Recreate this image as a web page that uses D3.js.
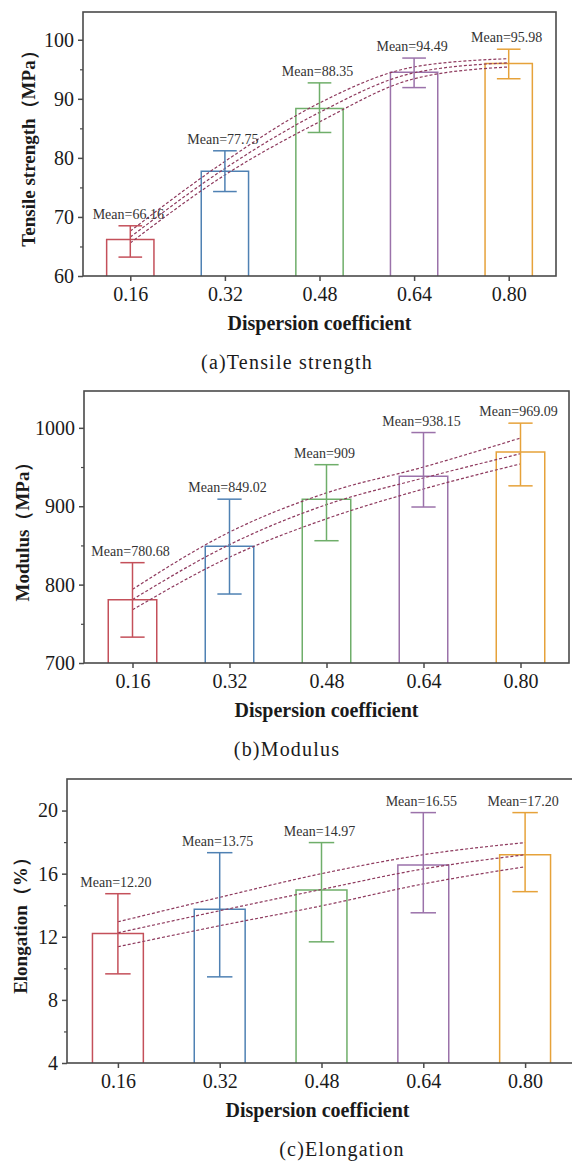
<!DOCTYPE html>
<html>
<head>
<meta charset="utf-8">
<script src="https://cdn.jsdelivr.net/npm/d3@7"></script>
<style>
  html, body { margin: 0; padding: 0; background: #fff; }
  svg { display: block; }
</style>
</head>
<body>
<div id="chart"></div>
<script>
// x categories (dispersion coefficient)
const categories = [0.16, 0.32, 0.48, 0.64, 0.80];
const tickLabels = ["0.16", "0.32", "0.48", "0.64", "0.80"];

// (a) tensile strength, MPa
const tensileMean = [66.16, 77.75, 88.35, 94.49, 95.98];
const tensileErrHi = [68.5, 81.2, 92.7, 96.9, 98.4];
const tensileErrLo = [63.2, 74.3, 84.3, 91.9, 93.4];
const tensileFit = [66.6, 78.2, 87.7, 94.4, 96.1];
const tensileBandHi = [67.6, 79.4, 89.3, 95.4, 96.8];
const tensileBandLo = [65.6, 77.1, 86.1, 93.4, 95.4];

// (b) modulus, MPa
const modulusMean = [780.68, 849.02, 909, 938.15, 969.09];
const modulusErrHi = [828, 909, 953, 994, 1006];
const modulusErrLo = [733, 788, 856, 899, 926];
const modulusFit = [781, 851, 902, 936, 967];
const modulusBandHi = [794, 867, 917, 950, 987];
const modulusBandLo = [768, 835, 884, 922, 954];

// (c) elongation, %
const elongMean = [12.20, 13.75, 14.97, 16.55, 17.20];
const elongErrHi = [14.73, 17.33, 17.97, 19.87, 19.87];
const elongErrLo = [9.65, 9.46, 11.68, 13.52, 14.86];
const elongFit = [12.25, 13.65, 15.0, 16.3, 17.2];
const elongBandHi = [12.95, 14.5, 16.0, 17.2, 17.97];
const elongBandLo = [11.37, 12.7, 13.96, 15.35, 16.44];

const colors = {
  bars: ["#c4505a", "#4f81b3", "#6fae6a", "#9b72aa", "#e6a23a"],
  frame: "#4a4a4a",
  text: "#1a1a1a",
  fitLine: "#8e3a5e",
};

const serif = "'Liberation Serif', 'Times New Roman', serif";

const panels = [
  {
    mean: tensileMean, hi: tensileErrHi, lo: tensileErrLo,
    curves: [tensileBandHi, tensileFit, tensileBandLo],
    fmt: (v) => String(v),
    left: 83, right: 556, top: 12, bottom: 276,
    yDomain: [60, 104.7], yTicks: [60, 70, 80, 90, 100], yMinor: [65, 75, 85, 95],
    yTitle: "Tensile strength（MPa）", yTitleX: 28,
    caption: "(a)Tensile strength", captionX: 287,
  },
  {
    mean: modulusMean, hi: modulusErrHi, lo: modulusErrLo,
    curves: [modulusBandHi, modulusFit, modulusBandLo],
    fmt: (v) => String(v),
    left: 84, right: 569, top: 391, bottom: 663,
    yDomain: [700, 1047], yTicks: [700, 800, 900, 1000], yMinor: [750, 850, 950],
    yTitle: "Modulus（MPa）", yTitleX: 22,
    caption: "(b)Modulus", captionX: 287,
  },
  {
    mean: elongMean, hi: elongErrHi, lo: elongErrLo,
    curves: [elongBandHi, elongFit, elongBandLo],
    fmt: (v) => v.toFixed(2),
    left: 67, right: 576, top: 779, bottom: 1063,
    yDomain: [4, 22], yTicks: [4, 8, 12, 16, 20], yMinor: [6, 10, 14, 18],
    yTitle: "Elongation（%）", yTitleX: 20,
    caption: "(c)Elongation", captionX: 342,
  },
];

const svg = d3.select("#chart")
  .append("svg")
  .attr("width", 572)
  .attr("height", 1162)
  .attr("viewBox", [0, 0, 572, 1162]);

panels.forEach(drawPanel);

function drawPanel(p) {
  const x = d3.scaleLinear().domain([0.08, 0.88]).range([p.left, p.right]);
  const y = d3.scaleLinear().domain(p.yDomain).range([p.bottom, p.top]);
  const barW = x(0.16) - x(0.08);
  const capW = barW * 0.5;

  const g = svg.append("g");

  // bars (open boxes)
  g.append("g")
    .selectAll("path")
    .data(p.mean)
    .join("path")
    .attr("fill", "none")
    .attr("stroke", (d, i) => colors.bars[i])
    .attr("stroke-width", 1.5)
    .attr("d", (d, i) => {
      const x0 = x(categories[i]) - barW / 2;
      const x1 = x(categories[i]) + barW / 2;
      return `M${x0},${y(p.yDomain[0])}V${y(d)}H${x1}V${y(p.yDomain[0])}`;
    });

  // dashed fit + confidence band
  const line = d3.line()
    .x((d, i) => x(categories[i]))
    .y((d) => y(d))
    .curve(d3.curveMonotoneX);

  g.append("g")
    .selectAll("path")
    .data(p.curves)
    .join("path")
    .attr("fill", "none")
    .attr("stroke", colors.fitLine)
    .attr("stroke-width", 1.2)
    .attr("stroke-dasharray", "3,2")
    .attr("d", line);

  // error bars
  const err = g.append("g")
    .selectAll("g")
    .data(p.mean)
    .join("g")
    .attr("stroke", (d, i) => colors.bars[i])
    .attr("stroke-width", 1.5);

  err.append("line")
    .attr("x1", (d, i) => x(categories[i]))
    .attr("x2", (d, i) => x(categories[i]))
    .attr("y1", (d, i) => y(p.hi[i]))
    .attr("y2", (d, i) => y(p.lo[i]));

  [p.hi, p.lo].forEach((arr) => {
    err.append("line")
      .attr("x1", (d, i) => x(categories[i]) - capW / 2)
      .attr("x2", (d, i) => x(categories[i]) + capW / 2)
      .attr("y1", (d, i) => y(arr[i]))
      .attr("y2", (d, i) => y(arr[i]));
  });

  // mean labels
  g.append("g")
    .selectAll("text")
    .data(p.mean)
    .join("text")
    .attr("x", (d, i) => x(categories[i]) - 2)
    .attr("y", (d, i) => y(p.hi[i]) - 7)
    .attr("text-anchor", "middle")
    .attr("font-family", serif)
    .attr("font-size", 14)
    .attr("fill", "#333")
    .text((d) => "Mean=" + p.fmt(d));

  // frame
  g.append("rect")
    .attr("x", p.left)
    .attr("y", p.top)
    .attr("width", p.right - p.left)
    .attr("height", p.bottom - p.top)
    .attr("fill", "none")
    .attr("stroke", colors.frame)
    .attr("stroke-width", 1.6);

  // x axis
  const xAxis = g.append("g")
    .attr("transform", `translate(0,${p.bottom})`)
    .call(
      d3.axisBottom(x)
        .tickValues(categories)
        .tickFormat((d, i) => tickLabels[i])
        .tickSize(5)
        .tickPadding(6)
    );
  xAxis.select(".domain").remove();
  xAxis.selectAll(".tick line").attr("stroke", colors.frame).attr("stroke-width", 1.5);
  xAxis.selectAll(".tick text")
    .attr("font-family", serif)
    .attr("font-size", 20)
    .attr("fill", colors.text);

  // y axis with minor ticks
  const yAxis = g.append("g")
    .attr("transform", `translate(${p.left},0)`)
    .call(
      d3.axisLeft(y)
        .tickValues(p.yTicks)
        .tickFormat(d3.format("d"))
        .tickSize(5)
        .tickPadding(4)
    );
  yAxis.select(".domain").remove();
  yAxis.selectAll(".tick line").attr("stroke", colors.frame).attr("stroke-width", 1.5);
  yAxis.selectAll(".tick text")
    .attr("font-family", serif)
    .attr("font-size", 20)
    .attr("fill", colors.text);

  const yMinor = g.append("g")
    .attr("transform", `translate(${p.left},0)`)
    .call(d3.axisLeft(y).tickValues(p.yMinor).tickSize(3).tickFormat(""));
  yMinor.select(".domain").remove();
  yMinor.selectAll(".tick line").attr("stroke", colors.frame).attr("stroke-width", 1.2);

  // titles
  g.append("text")
    .attr("x", (p.left + p.right) / 2 + (p.right > 572 ? -4 : 0))
    .attr("y", p.bottom + 54)
    .attr("text-anchor", "middle")
    .attr("font-family", serif)
    .attr("font-weight", "bold")
    .attr("font-size", 20)
    .attr("fill", colors.text)
    .text("Dispersion coefficient");

  g.append("text")
    .attr("transform", `translate(${p.yTitleX},${(p.top + p.bottom) / 2}) rotate(-90)`)
    .attr("dy", "0.35em")
    .attr("text-anchor", "middle")
    .attr("font-family", serif)
    .attr("font-weight", "bold")
    .attr("font-size", 19)
    .attr("fill", colors.text)
    .text(p.yTitle);

  g.append("text")
    .attr("x", p.captionX)
    .attr("y", p.bottom + 93)
    .attr("text-anchor", "middle")
    .attr("font-family", serif)
    .attr("font-size", 20)
    .attr("letter-spacing", 1.2)
    .attr("fill", colors.text)
    .text(p.caption);
}
</script>
</body>
</html>
